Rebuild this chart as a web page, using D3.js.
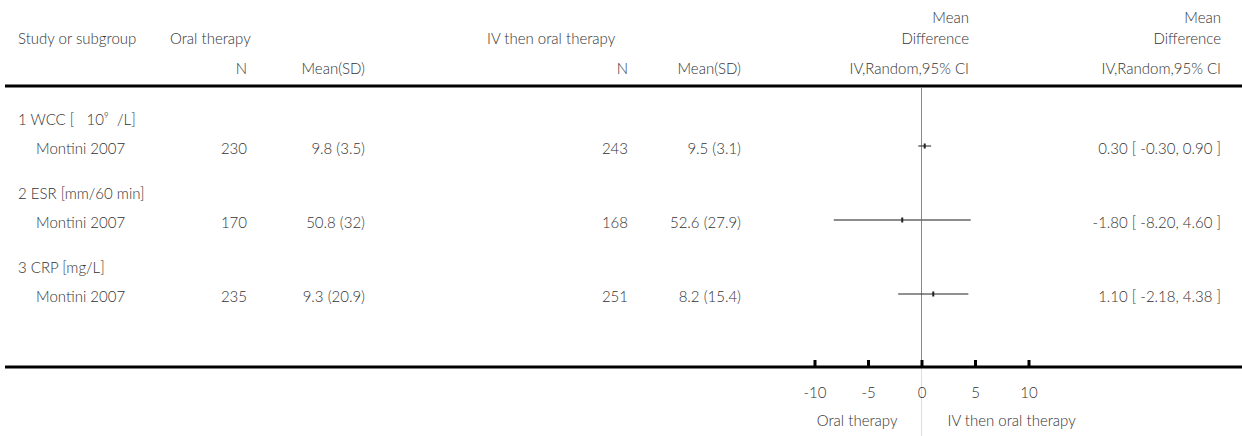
<!DOCTYPE html>
<html>
<head>
<meta charset="utf-8">
<script src="https://cdn.jsdelivr.net/npm/d3@7/dist/d3.min.js"></script>
<style>
  html, body { margin: 0; padding: 0; background: #fff; }
  svg text { font-family: Lato, "Open Sans", sans-serif; font-size: 15px; font-weight: 300; fill: #333; white-space: pre; }
</style>
</head>
<body>
<svg id="chart" width="1242" height="436"></svg>
<script>
// Forest plot: oral therapy vs IV then oral therapy, mean differences by outcome
const subgroups = ["1 WCC [   10\u2079  /L]", "2 ESR [mm/60 min]", "3 CRP [mg/L]"];
const studies = ["Montini 2007", "Montini 2007", "Montini 2007"];
const oralN = [230, 170, 235];
const oralMean = [9.8, 50.8, 9.3];
const oralSD = ["3.5", "32", "20.9"];
const ivN = [243, 168, 251];
const ivMean = [9.5, 52.6, 8.2];
const ivSD = ["3.1", "27.9", "15.4"];
const md = [0.30, -1.80, 1.10];
const ciLow = [-0.30, -8.20, -2.18];
const ciHigh = [0.90, 4.60, 4.38];
const axisTicks = [-10, -5, 0, 5, 10];

const svg = d3.select("#chart");
const W = 1242, H = 436;

// layout
const col = { study: 18, studyIndent: 36, oralN: 247, oralMean: 365, ivN: 628, ivMean: 741, plotHead: 969, ciText: 1221 };
const headY1 = 18, headY2 = 39, headY3 = 69, ruleY = 86, axisY = 367;
const groupY = d3.scalePoint().domain(d3.range(subgroups.length)).range([146, 294]);
const x = d3.scaleLinear().domain([-10, 10]).range([814.5, 1028.5]);

// plain hyphen for negatives, as printed in the table
const fmt2 = v => d3.format(".2f")(v).replace("\u2212", "-");

function txt(xp, yp, s, anchor) {
  return svg.append("text").attr("x", xp).attr("y", yp).attr("dy", "0.35em")
    .attr("text-anchor", anchor || "start").text(s);
}

// header
txt(col.study, headY2, "Study or subgroup");
txt(170, headY2, "Oral therapy");
txt(487, headY2, "IV then oral therapy");
txt(col.plotHead, headY1, "Mean", "end");
txt(col.plotHead, headY2, "Difference", "end");
txt(col.ciText, headY1, "Mean", "end");
txt(col.ciText, headY2, "Difference", "end");
txt(col.oralN, headY3, "N", "end");
txt(col.oralMean, headY3, "Mean(SD)", "end");
txt(col.ivN, headY3, "N", "end");
txt(col.ivMean, headY3, "Mean(SD)", "end");
txt(col.plotHead, headY3, "IV,Random,95% CI", "end");
txt(col.ciText, headY3, "IV,Random,95% CI", "end");

// header rule
svg.append("line").attr("x1", 5).attr("x2", W).attr("y1", ruleY).attr("y2", ruleY)
  .attr("stroke", "#000").attr("stroke-width", 3);

// line of no effect
svg.append("line").attr("x1", x(0)).attr("x2", x(0)).attr("y1", ruleY + 1.5).attr("y2", axisY)
  .attr("stroke", "#888").attr("stroke-width", 1);
svg.append("line").attr("x1", x(0)).attr("x2", x(0)).attr("y1", axisY).attr("y2", H)
  .attr("stroke", "#ddd").attr("stroke-width", 1);

// table rows
subgroups.forEach((g, i) => {
  const yStudy = groupY(i) + 3;
  const yHead = groupY(i) - 26;
  txt(col.study, yHead, g);
  txt(col.studyIndent, yStudy, studies[i]);
  txt(col.oralN, yStudy, String(oralN[i]), "end");
  txt(col.oralMean, yStudy, `${oralMean[i]} (${oralSD[i]})`, "end");
  txt(col.ivN, yStudy, String(ivN[i]), "end");
  txt(col.ivMean, yStudy, `${ivMean[i]} (${ivSD[i]})`, "end");
  txt(col.ciText, yStudy, `${fmt2(md[i])} [ ${fmt2(ciLow[i])}, ${fmt2(ciHigh[i])} ]`, "end");
});

// confidence intervals and point estimates
const ci = svg.append("g");
ci.selectAll("line.ci").data(md).join("line").attr("class", "ci")
  .attr("x1", (d, i) => x(ciLow[i])).attr("x2", (d, i) => x(ciHigh[i]))
  .attr("y1", (d, i) => groupY(i)).attr("y2", (d, i) => groupY(i))
  .attr("stroke", (d, i) => i === 1 ? "#666" : "#222")
  .attr("stroke-width", (d, i) => i === 1 ? 1.5 : 1);
ci.selectAll("rect.pt").data(md).join("rect").attr("class", "pt")
  .attr("x", d => x(d) - 1).attr("width", 2)
  .attr("y", (d, i) => groupY(i) - 2.5).attr("height", 5)
  .attr("fill", "#222");

// bottom axis
svg.append("line").attr("x1", 5).attr("x2", W).attr("y1", axisY).attr("y2", axisY)
  .attr("stroke", "#000").attr("stroke-width", 3);
const axis = d3.axisBottom(x).tickValues(axisTicks).tickSize(-7).tickPadding(18)
  .tickFormat(d => String(d));
const ax = svg.append("g").attr("transform", `translate(0,${axisY})`).call(axis);
ax.select(".domain").remove();
ax.selectAll(".tick line").attr("stroke", "#000").attr("stroke-width", 3);
ax.selectAll(".tick text").attr("font-size", null).attr("font-family", null)
  .attr("fill", null).attr("dy", "0.35em").attr("y", 26);

// direction labels
txt(x(0) - 24, 421, "Oral therapy", "end");
txt(x(0) + 26, 421, "IV then oral therapy", "start");
</script>
</body>
</html>
